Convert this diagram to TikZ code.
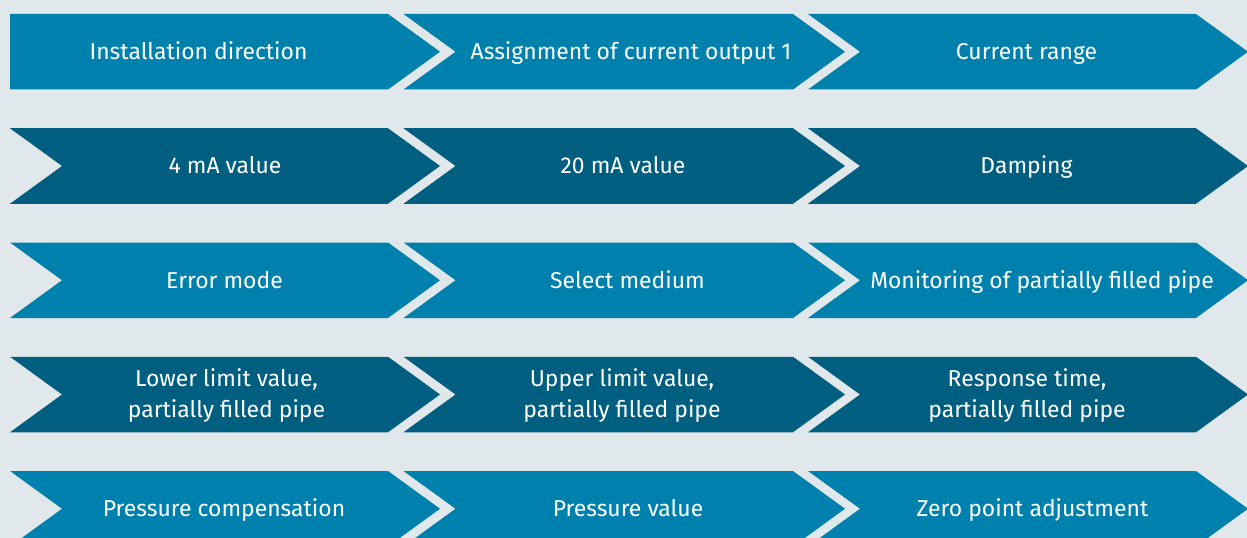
\documentclass[tikz,border=0pt]{standalone}
\usepackage{fontspec}
\setmainfont{Fira Sans}
\usepackage{xcolor}
\usepackage{tikz}
\usetikzlibrary{calc}
\definecolor{ehback}{HTML}{E0E8EC}
\definecolor{ehlight}{HTML}{0081AD}
\definecolor{ehdark}{HTML}{005F80}
\tikzset{lightstep/.style={fill=ehlight}}
\tikzset{darkstep/.style={fill=ehdark}}
\tikzset{steplabel/.style={text=white,align=center,inner sep=0pt,font=\fontsize{16.3}{22}\selectfont}}
\tikzset{oneline/.style={steplabel,text height=11.2pt,text depth=0pt}}

\begin{document}
\begin{tikzpicture}[x=0.025cm,y=-0.025cm]
	\fill[ehback] (0,0) rectangle (1247,538);
	\useasboundingbox (0,0) rectangle (1247,538);
	\clip (0,0) rectangle (1247,538);
	% first row, flat start
	\fill[lightstep] (10,14) -- (388,14) -- (440,51.75) -- (388,89.5) -- (10,89.5) -- cycle;
	\foreach \L/\R in {403.5/793,808/1196}
		\fill[lightstep] (\L,14) -- (\R,14) -- (\R+52,51.75) -- (\R,89.5) -- (\L,89.5) -- (\L+52,51.75) -- cycle;
	% the other rows
	\foreach \t/\c in {128.25/darkstep,242.5/lightstep,356.75/darkstep,471/lightstep}
		\foreach \L/\R in {10/388,403.5/793,808/1196}
			\fill[\c] (\L,\t) -- (\R,\t) -- (\R+52,\t+37.75) -- (\R,\t+75.5) -- (\L,\t+75.5) -- (\L+52,\t+37.75) -- cycle;

	\node[oneline] (instdir) at (198.5,52) {Installation direction};
	\node[oneline] (assign) at (631,52) {Assignment of current output 1};
	\node[oneline] (currange) at (1026.5,52) {Current range};

	\node[oneline] (fourma) at (225,166) {4 mA value};
	\node[oneline] (twentyma) at (623,166) {20 mA value};
	\node[oneline] (damping) at (1026.5,166) {Damping};

	\node[oneline] (errmode) at (224.5,280.5) {Error mode};
	\node[oneline] (medium) at (627.5,280.5) {Select medium};
	\node[oneline] (monitor) at (1042,280.5) {Monitoring of partially filled pipe};

	\node[steplabel] (lowlim) at (226.5,395.5) {Lower limit value,\\partially filled pipe};
	\node[steplabel] (uplim) at (622,395.5) {Upper limit value,\\partially filled pipe};
	\node[steplabel] (resp) at (1027,395.5) {Response time,\\partially filled pipe};

	\node[oneline] (pcomp) at (224,509) {Pressure compensation};
	\node[oneline] (pvalue) at (628,509) {Pressure value};
	\node[oneline] (zeropt) at (1032.5,509) {Zero point adjustment};
\end{tikzpicture}
\end{document}
